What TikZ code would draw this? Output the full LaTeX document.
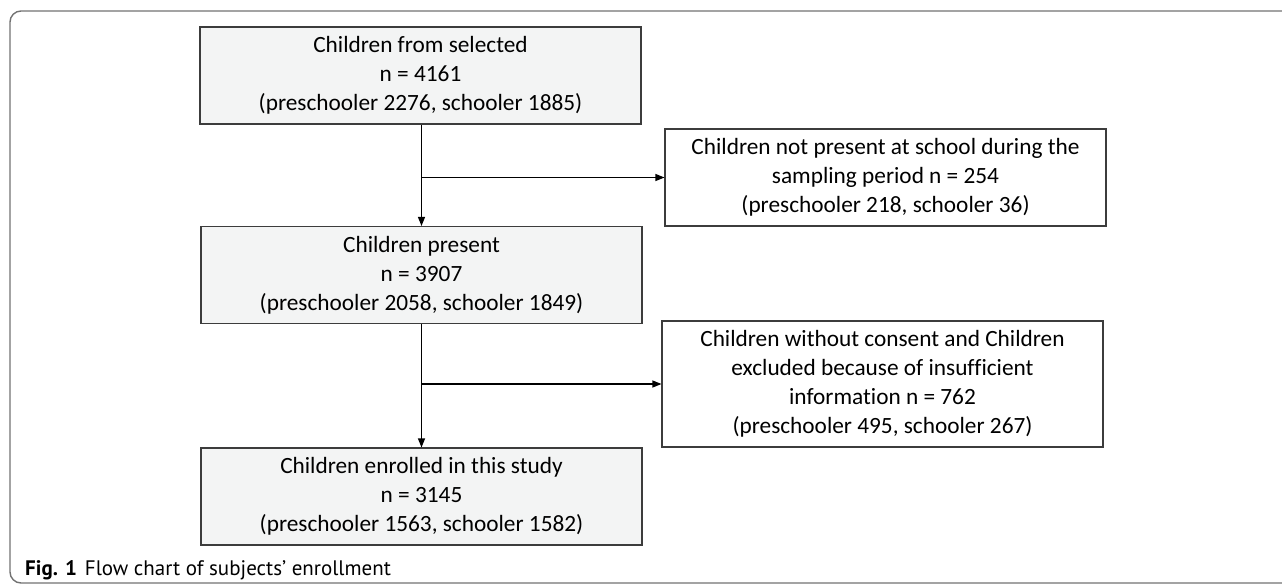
\documentclass[tikz,border=0pt]{standalone}
\usepackage{fontspec}
\setmainfont[Ligatures=NoCommon]{Carlito}
\newfontfamily\capfont{PT Sans}
\usetikzlibrary{arrows.meta}
\definecolor{boxfill}{HTML}{F3F4F4}
\definecolor{boxline}{HTML}{3C3C3C}
\definecolor{frameline}{HTML}{727272}
\begin{document}
\begin{tikzpicture}[x=1pt,y=-1pt,
  flowbox/.style={draw=boxline, line width=1.1pt, minimum width=441pt, minimum height=97pt,
    align=center, inner sep=0pt, font=\fontsize{23.3}{29}\selectfont, text=black},
  mainbox/.style={flowbox, fill=boxfill},
  sidebox/.style={flowbox, fill=white},
  arr/.style={draw=black, line width=1.1pt, -{Triangle[length=9pt,width=7pt]}}]
\useasboundingbox (0,0) rectangle (1282,584);
\draw[frameline, line width=1.4pt, rounded corners=11pt] (1285,11) -- (10,11) -- (10,583) -- (1285,583);
\node[mainbox] (b1) at (420.5,75.5) {Children from selected\\n = 4161\\(preschooler 2276, schooler 1885)};
\node[sidebox] (b2) at (885.5,177.5) {Children not present at school during the\\sampling period n = 254\\(preschooler 218, schooler 36)};
\node[mainbox] (b3) at (421.5,275) {Children present\\n = 3907\\(preschooler 2058, schooler 1849)};
\node[sidebox, minimum height=126pt] (b4) at (882.5,384) {Children without consent and Children\\excluded because of insufficient\\information n = 762\\(preschooler 495, schooler 267)};
\node[mainbox] (b5) at (421.5,496.5) {Children enrolled in this study\\n = 3145\\(preschooler 1563, schooler 1582)};
\coordinate (v1) at (421.5,0);
\draw[arr] (b1.south -| v1) -- (b3.north -| v1);
\draw[arr] (v1 |- b2.west) -- (b2.west);
\draw[arr] (b3.south -| v1) -- (b5.north -| v1);
\draw[arr] (v1 |- b4.west) -- (b4.west);
\node[anchor=base west, inner sep=0pt, font=\capfont\fontsize{21}{24}\selectfont] (cap) at (25,575) {\textbf{Fig. 1}\hspace{8pt}Flow chart of subjects’ enrollment};
\end{tikzpicture}
\end{document}
